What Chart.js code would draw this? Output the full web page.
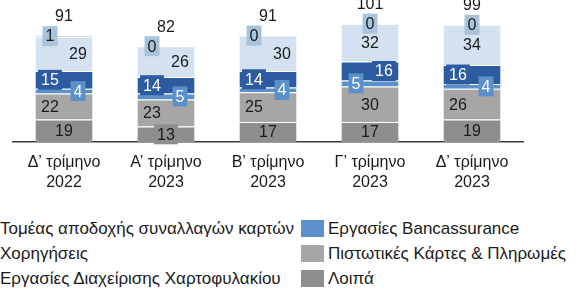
<!DOCTYPE html>
<html>
<head>
<meta charset="utf-8">
<script src="https://cdn.jsdelivr.net/npm/chart.js@4"></script>
<style>
  html, body { margin: 0; padding: 0; background: #fff; overflow: hidden; }
  body { width: 579px; height: 291px; position: relative; font-family: "Liberation Sans", Arial, sans-serif; }
  #wrap { position: absolute; left: 0; top: 0; width: 579px; height: 202px; }
  .leg { position: absolute; font-size: 17px; color: #1a1a1a; white-space: nowrap; line-height: 17px; }
  .leg .sw { position: absolute; width: 23px; height: 17px; left: -27px; top: 0px; }
</style>
</head>
<body>
<div id="wrap"><canvas id="chart"></canvas></div>
<div id="legend"></div>
<script>
// categories (two-line tick labels)
const categories = [
  ['Δ’ τρίμηνο', '2022'],
  ['Α’ τρίμηνο', '2023'],
  ['Β’ τρίμηνο', '2023'],
  ['Γ’ τρίμηνο', '2023'],
  ['Δ’ τρίμηνο', '2023']
];

// series, bottom of the stack first
const loipa       = [19, 13, 17, 17, 19];
const pistotikes  = [22, 23, 25, 30, 26];
const bancass     = [4, 5, 4, 5, 4];
const xorigiseis  = [15, 14, 14, 16, 16];
const apodoxi     = [29, 26, 30, 32, 34];
const diaxeirisi  = [1, 0, 0, 0, 0];
const totals      = [91, 82, 91, 101, 99];

const names = [
  'Λοιπά',
  'Πιστωτικές Κάρτες & Πληρωμές',
  'Εργασίες Bancassurance',
  'Χορηγήσεις',
  'Τομέας αποδοχής συναλλαγών καρτών',
  'Εργασίες Διαχείρισης Χαρτοφυλακίου'
];
const colors = ['#8e8e8e', '#a7a6a5', '#5b90cb', '#2c5c9f', '#d3e1f0', '#a8c3da'];
const textColors = ['#1a1a1a', '#1a1a1a', '#ffffff', '#ffffff', '#1a1a1a', '#1a1a1a'];

// label placement inside each bar: l / c / r
const labelAlign = [
  ['c', 'c', 'c', 'c', 'c'],
  ['l', 'l', 'l', 'c', 'l'],
  ['r', 'r', 'r', 'l', 'r'],
  ['l', 'l', 'l', 'r', 'l'],
  ['r', 'r', 'r', 'c', 'c'],
  ['l', 'l', 'l', 'c', 'c']
];

// legend layout: [dataset index, column, row]
const legendOrder = [[4, 0, 0], [3, 0, 1], [5, 0, 2], [2, 1, 0], [1, 1, 1], [0, 1, 2]];

const series = [loipa, pistotikes, bancass, xorigiseis, apodoxi, diaxeirisi];
const FONT = '"Liberation Sans", Arial, sans-serif';

const labelPlugin = {
  id: 'segLabels',
  afterDatasetsDraw(chart) {
    const ctx = chart.ctx;
    ctx.save();
    ctx.font = '16px ' + FONT;
    ctx.textAlign = 'center';
    ctx.textBaseline = 'middle';
    const tops = [];
    chart.data.datasets.forEach((ds, i) => {
      const meta = chart.getDatasetMeta(i);
      meta.data.forEach((bar, j) => {
        const v = ds.data[j];
        const a = labelAlign[i][j];
        const x = bar.x + (a === 'l' ? -14 : a === 'r' ? 14 : 0);
        const y = (bar.y + bar.base) / 2;
        tops[j] = Math.min(tops[j] ?? Infinity, bar.y);
        const txt = String(v);
        if (Math.abs(bar.base - bar.y) < 19) {
          const w = ctx.measureText(txt).width + 6;
          ctx.fillStyle = colors[i];
          ctx.fillRect(x - w / 2, y - 10, w, 20);
        }
        ctx.fillStyle = textColors[i];
        ctx.fillText(txt, x, y + 1);
      });
    });
    ctx.fillStyle = '#1a1a1a';
    tops.forEach((t, j) => {
      const bar = chart.getDatasetMeta(0).data[j];
      ctx.fillText(String(totals[j]), bar.x, t - 19);
    });
    ctx.restore();
  }
};

new Chart(document.getElementById('chart'), {
  type: 'bar',
  data: {
    labels: categories,
    datasets: series.map((d, i) => ({
      label: names[i],
      data: d,
      backgroundColor: colors[i],
      borderColor: 'rgba(255,255,255,0.55)',
      borderWidth: { top: 1, bottom: 0, left: 0, right: 0 },
      borderSkipped: false,
      barPercentage: 0.56,
      categoryPercentage: 1
    }))
  },
  options: {
    responsive: true,
    maintainAspectRatio: false,
    animation: false,
    layout: { padding: { left: 13, right: 56, top: 0, bottom: 0 } },
    plugins: { legend: { display: false }, tooltip: { enabled: false } },
    scales: {
      x: {
        stacked: true,
        grid: { display: false, drawTicks: false },
        border: { display: true, color: '#3a3a3a', width: 1.5 },
        ticks: { color: '#1a1a1a', padding: 10, font: { family: FONT, size: 16, lineHeight: 1.28 }, maxRotation: 0 },
        afterFit(scale) { scale.height = 60; }
      },
      y: { stacked: true, display: false, min: 0, max: 120 }
    }
  },
  plugins: [labelPlugin]
});

// legend
const legEl = document.getElementById('legend');
legendOrder.forEach(([i, col, row]) => {
  const d = document.createElement('div');
  d.className = 'leg';
  d.style.left = (col === 0 ? 0 : 328) + 'px';
  d.style.top = (220 + row * 25) + 'px';
  d.innerHTML = '<span class="sw" style="background:' + colors[i] + '"></span>' + names[i];
  legEl.appendChild(d);
});
</script>
</body>
</html>
